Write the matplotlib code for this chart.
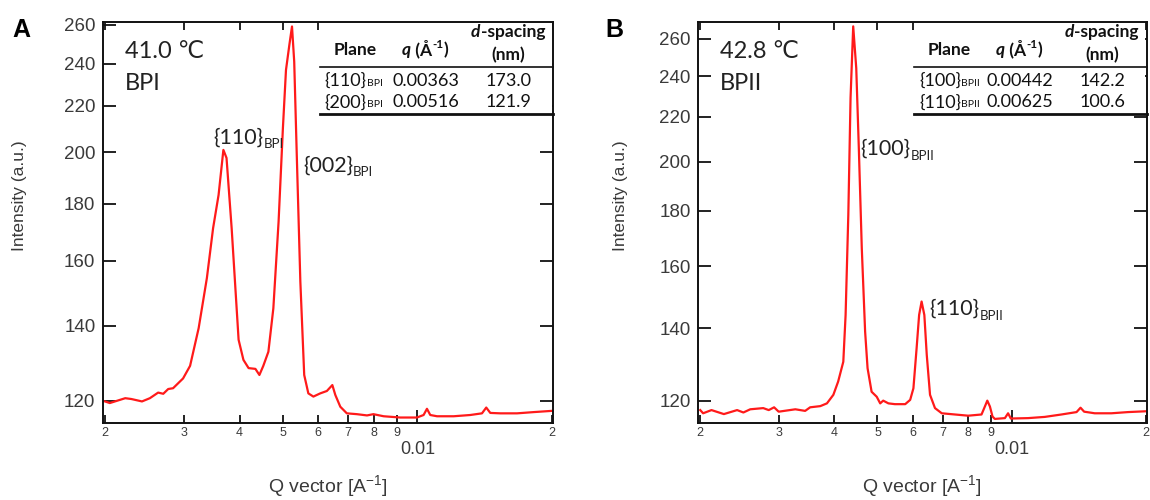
import matplotlib
matplotlib.use("Agg")
import matplotlib.pyplot as plt
from matplotlib.patches import Rectangle
from matplotlib.ticker import NullLocator

plt.rcParams['font.family'] = ['Liberation Sans', 'DejaVu Sans']
plt.rcParams['mathtext.fontset'] = 'custom'
plt.rcParams['mathtext.rm'] = 'Liberation Sans'
INNER = ['Lato', 'DejaVu Sans']
GREY = '#3a3a3a'

# panel A : 41.0 C, BPI
q_bpi = [0.00200, 0.00205, 0.00222, 0.00229, 0.00242, 0.00252, 0.00263, 0.00270, 0.00277, 0.00284,
         0.00299, 0.00310, 0.00324, 0.00338, 0.00349, 0.00359, 0.00368, 0.00374, 0.00384, 0.00398,
         0.00408, 0.00419, 0.00434, 0.00443, 0.00452, 0.00464, 0.00476, 0.00489, 0.00500, 0.00508,
         0.00517, 0.00524, 0.00530, 0.00537, 0.00547, 0.00558, 0.00570, 0.00585, 0.00606, 0.00627,
         0.00645, 0.00655, 0.00672, 0.00695, 0.00732, 0.00771, 0.00797, 0.00840, 0.00915, 0.00997,
         0.01032, 0.01050, 0.01068, 0.01106, 0.01205, 0.01312, 0.01394, 0.01425, 0.01455, 0.01532,
         0.01670, 0.01820, 0.02000]
i_bpi = [119.8, 119.4, 120.6, 120.4, 119.8, 120.6, 122.0, 121.7, 122.9, 123.1,
         125.6, 128.9, 139.3, 154.4, 171.1, 183.2, 201.0, 197.7, 171.1, 136.0,
         130.5, 128.3, 128.1, 126.5, 128.9, 132.7, 145.1, 173.4, 210.2, 236.9,
         249.6, 259.1, 241.0, 199.0, 153.3, 126.5, 121.8, 121.0, 121.8, 122.4,
         123.9, 121.4, 118.5, 116.9, 116.7, 116.4, 116.7, 116.2, 115.9, 115.9,
         116.5, 118.0, 116.5, 116.2, 116.2, 116.5, 116.9, 118.3, 117.0, 116.9,
         116.9, 117.2, 117.5]

# panel B : 42.8 C, BPII
q_bpii = [0.00200, 0.00203, 0.00212, 0.00226, 0.00242, 0.00250, 0.00259, 0.00277, 0.00285, 0.00293,
          0.00300, 0.00327, 0.00344, 0.00353, 0.00372, 0.00385, 0.00398, 0.00408, 0.00419, 0.00424,
          0.00430, 0.00435, 0.00441, 0.00448, 0.00454, 0.00461, 0.00469, 0.00475, 0.00485, 0.00498,
          0.00507, 0.00515, 0.00529, 0.00547, 0.00577, 0.00592, 0.00602, 0.00612, 0.00620, 0.00628,
          0.00637, 0.00645, 0.00656, 0.00673, 0.00697, 0.00746, 0.00799, 0.00856, 0.00871, 0.00882,
          0.00894, 0.00906, 0.00917, 0.00966, 0.00982, 0.00996, 0.01089, 0.01187, 0.01294, 0.01399,
          0.01428, 0.01455, 0.01537, 0.01675, 0.01826, 0.01998]
i_bpii = [117.6, 116.8, 117.6, 116.6, 117.6, 117.0, 117.8, 118.1, 117.6, 118.3,
          117.2, 117.8, 117.4, 118.3, 118.6, 119.3, 121.5, 125.0, 130.4, 144.1,
          178.5, 229.2, 267.0, 244.2, 205.8, 166.2, 139.1, 128.6, 122.3, 121.0,
          119.3, 120.0, 119.3, 119.1, 119.1, 120.2, 123.2, 134.2, 144.1, 148.3,
          144.1, 132.3, 121.5, 118.1, 116.8, 116.5, 116.2, 116.5, 118.5, 120.0,
          118.5, 116.0, 115.4, 115.6, 116.8, 115.5, 115.6, 115.9, 116.5, 117.1,
          118.2, 117.2, 116.8, 116.8, 117.1, 117.3]

y_ticks = [120, 140, 160, 180, 200, 220, 240, 260]
x_major = [0.01]
x_major_labels = ['0.01']
x_minor = [0.002, 0.003, 0.004, 0.005, 0.006, 0.007, 0.008, 0.009, 0.02]
x_minor_labels = ['2', '3', '4', '5', '6', '7', '8', '9', '2']

planes_bpi = ['{110}', '{200}']
q_peak_bpi = ['0.00363', '0.00516']
d_bpi = ['173.0', '121.9']
planes_bpii = ['{100}', '{110}']
q_peak_bpii = ['0.00442', '0.00625']
d_bpii = ['142.2', '100.6']


def chain(ax, x, y, parts, **kw):
    # parts: (text, size, weight, style, dy) laid out left to right
    prev = None
    for text, size, weight, style, dy in parts:
        if prev is None:
            prev = ax.text(x, y, text, transform=ax.transAxes, fontsize=size, fontweight=weight,
                           fontstyle=style, va='baseline', ha='left', **kw)
        else:
            prev = ax.annotate(text, xy=(1, 0), xycoords=prev, xytext=(0, dy),
                               textcoords='offset points', fontsize=size, fontweight=weight,
                               fontstyle=style, va='bottom', ha='left', **kw)
    return prev


def panel(ax, q, inten, ylim, temp, phase, planes, qs, ds, peaks):
    ax.plot(q, inten, color='#ff1a1a', lw=1.6, zorder=2)
    ax.set_xscale('log')
    ax.set_yscale('log')
    ax.set_xlim(0.00198, 0.0201)
    ax.set_ylim(*ylim)
    ax.set_xticks(x_major, x_major_labels)
    ax.set_xticks(x_minor, x_minor_labels, minor=True)
    ax.set_yticks(y_ticks, [str(v) for v in y_ticks])
    ax.yaxis.set_minor_locator(NullLocator())
    ax.tick_params(which='both', direction='in', top=True, right=True, width=1.3,
                   color='#111111', labelcolor=GREY)
    ax.tick_params(axis='y', which='major', length=9.5, pad=5.5, labelsize=13.5)
    ax.tick_params(axis='x', which='major', length=9.5, pad=13, labelsize=13)
    ax.tick_params(axis='x', which='minor', length=6, pad=3, labelsize=9)
    for s in ax.spines.values():
        s.set_linewidth(1.4)
        s.set_color('#111111')

    ax.text(0.048, 0.910, temp, transform=ax.transAxes, fontsize=17, color='#222222',
            family=INNER, va='baseline')
    ax.text(0.048, 0.830, phase, transform=ax.transAxes, fontsize=17, color='#222222',
            family=INNER, va='baseline')

    for x, y, name in peaks:
        chain(ax, x, y, [(name, 15.5, 'normal', 'normal', 0), (phase, 9.5, 'normal', 'normal', -2)],
              color='#222222', family=INNER, zorder=3)

    # inset table
    ax.add_patch(Rectangle((0.482, 0.771), 0.515, 0.229, transform=ax.transAxes,
                           facecolor='white', edgecolor='none', zorder=2.2))
    ax.plot([0.482, 1.0], [0.887, 0.887], transform=ax.transAxes, color='#111111', lw=1.2,
            zorder=3, clip_on=False)
    ax.plot([0.482, 1.0], [0.771, 0.771], transform=ax.transAxes, color='#111111', lw=2,
            zorder=3, clip_on=False)
    tk = dict(family=INNER, color='#111111', zorder=3)
    ax.text(0.512, 0.918, 'Plane', transform=ax.transAxes, fontsize=12.5, fontweight='bold',
            va='baseline', **tk)
    chain(ax, 0.664, 0.918, [('q', 12.5, 'bold', 'italic', 0), (' (Å', 12.5, 'bold', 'normal', 0),
                              ('-1', 8.5, 'bold', 'normal', 6), (')', 12.5, 'bold', 'normal', -6)], **tk)
    chain(ax, 0.818, 0.963, [('d', 12.5, 'bold', 'italic', 0), ('-spacing', 12.5, 'bold', 'normal', 0)], **tk)
    ax.text(0.900, 0.905, '(nm)', transform=ax.transAxes, fontsize=12.5, fontweight='bold',
            ha='center', va='baseline', **tk)
    for y, p, qq, d in zip([0.840, 0.787], planes, qs, ds):
        chain(ax, 0.493, y, [(p, 13, 'normal', 'normal', 0), (phase, 7.5, 'normal', 'normal', 0.8)], **tk)
        ax.text(0.718, y, qq, transform=ax.transAxes, fontsize=13, ha='center', va='baseline', **tk)
        ax.text(0.901, y, d, transform=ax.transAxes, fontsize=13, ha='center', va='baseline', **tk)


fig = plt.figure(figsize=(11.5, 5), dpi=100)
ax_a = fig.add_axes([0.0896, 0.154, 0.3913, 0.802])
ax_b = fig.add_axes([0.6072, 0.154, 0.3899, 0.802])

panel(ax_a, q_bpi, i_bpi, (114.6, 261.5), '41.0 \u2103', 'BPI', planes_bpi, q_peak_bpi, d_bpi,
      [(0.245, 0.697, '{110}'), (0.444, 0.627, '{002}')])
panel(ax_b, q_bpii, i_bpii, (114.4, 269.5), '42.8 \u2103', 'BPII', planes_bpii, q_peak_bpii, d_bpii,
      [(0.362, 0.668, '{100}'), (0.515, 0.269, '{110}')])

for xc, lx in [(328 / 1150, 20 / 1150), (922 / 1150, 620 / 1150)]:
    fig.text(xc, 0.014, r'Q vector [A$^{\mathrm{-1}}$]', fontsize=14, color=GREY,
             ha='center', va='baseline')
    fig.text(lx, 1 - 196 / 500, 'Intensity (a.u.)', fontsize=12.5, color=GREY,
             rotation=90, ha='center', va='center')

fig.text(0.0104, 0.964, 'A', fontsize=18, fontweight='bold', va='top')
fig.text(0.526, 0.964, 'B', fontsize=18, fontweight='bold', va='top')

fig.savefig('out.png', dpi=100)
